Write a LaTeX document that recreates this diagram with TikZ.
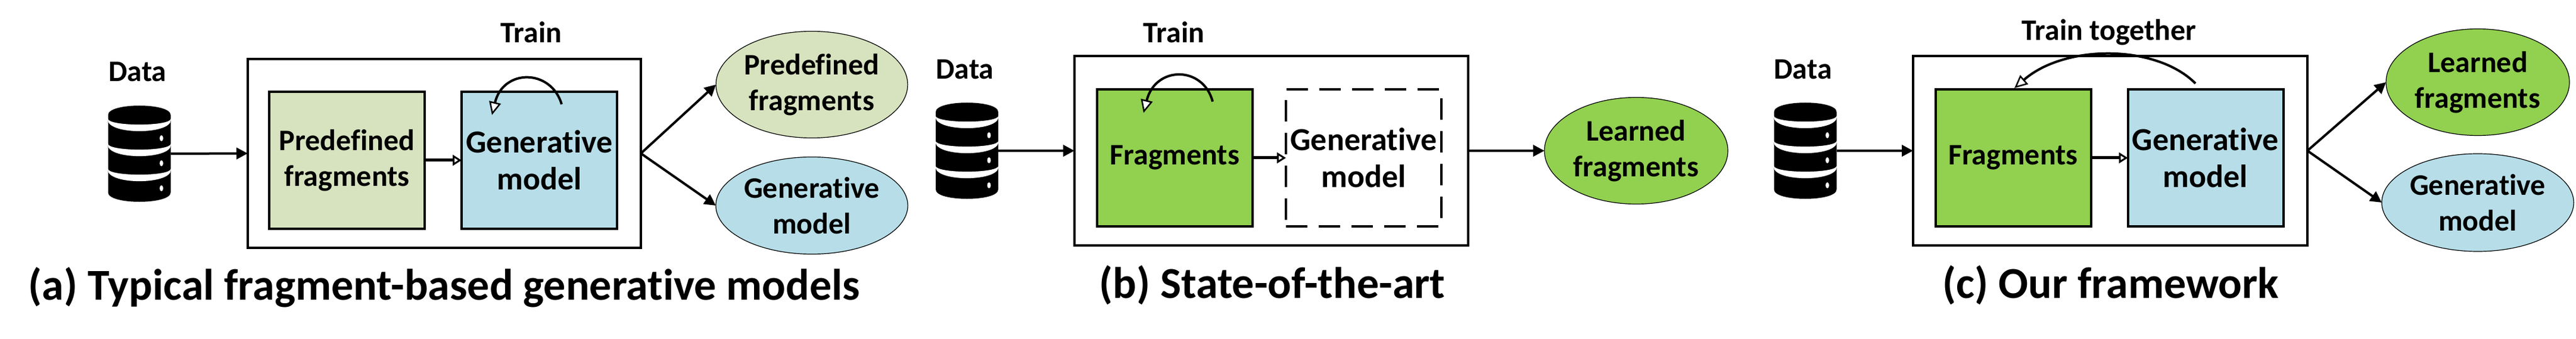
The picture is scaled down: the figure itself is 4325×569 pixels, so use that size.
\documentclass[tikz,border=0pt]{standalone}
\usepackage{fontspec}
\setmainfont[Ligatures=NoCommon,RawFeature={-liga,-clig}]{Carlito}
\usetikzlibrary{arrows.meta,shapes.geometric}
\definecolor{predgreen}{HTML}{D7E3BF}
\definecolor{genblue}{HTML}{B7DEE8}
\definecolor{learngreen}{HTML}{92D050}
\newcommand{\dbicon}[3]{% name, cx, top
  \node[minimum width=105pt,minimum height=162pt,inner sep=0pt,outer sep=0pt] (#1) at (#2,#3+81) {};
  \begin{scope}[shift={(#2,#3)}]
    \fill[black] (-52.5,16) -- (-52.5,146) .. controls (-52.5,167) and (52.5,167) .. (52.5,146) -- (52.5,16) .. controls (52.5,-5) and (-52.5,-5) .. cycle;
    \foreach \ye in {22,64,106}{
      \fill[white] (-53,\ye) .. controls (-53,\ye+13.5) and (53,\ye+13.5) .. (53,\ye)
        -- (53,\ye+2) .. controls (53,\ye+27.5) and (-53,\ye+27.5) .. (-53,\ye+2) -- cycle;
      \fill[white] (37,\ye+33) ellipse [x radius=3pt,y radius=5pt];
    }
  \end{scope}}
\tikzset{
  lab/.style={font=\bfseries\fontsize{50}{60}\selectfont,inner sep=0pt},
  captiontext/.style={font=\bfseries\fontsize{74}{88}\selectfont,inner sep=0pt},
  boxtext/.style={font=\bfseries\fontsize{50}{60}\selectfont,align=center,inner sep=0pt,outer sep=0pt},
  gentext/.style={font=\bfseries\fontsize{54}{62}\selectfont},
  outerbox/.style={draw=black,fill=white,line width=4pt,inner sep=0pt,outer sep=0pt},
  innerbox/.style={boxtext,draw=black,line width=4pt,minimum width=261pt,minimum height=230pt},
  dashbox/.style={boxtext,draw=black,line width=4pt,minimum width=261pt,minimum height=230pt,dash pattern=on 36pt off 19pt},
  resultnode/.style={boxtext,ellipse,draw=black,line width=1.2pt,minimum width=308pt},
  solidarrow/.style={draw=black,line width=4pt,-{Triangle[length=19pt,width=19pt]}},
  openarrow/.style={draw=black,line width=5pt,-{Triangle[open,fill=white,length=15pt,width=18pt,line width=3pt]}},
  selfloop/.style={draw=black,line width=4pt,-{Triangle[open,fill=white,length=22pt,width=20pt,line width=2.5pt]}}
}
\begin{document}
\begin{tikzpicture}[x=1pt,y=-1pt]
\useasboundingbox (0,0) rectangle (4325,569);
\fill[white] (0,0) rectangle (4325,569);
% panel a
\node[lab] (adata) at (231,120) {Data};
\node[lab] (atrain) at (892,54) {Train};
\dbicon{adb}{234}{177}
\node[outerbox,minimum width=660pt,minimum height=317pt] (abox) at (746,257.5) {};
\node[innerbox,fill=predgreen] (apred) at (582.5,269) {Predefined\\fragments};
\node[innerbox,gentext,fill=genblue] (agen) at (905.5,269) {Generative\\model};
\node[resultnode,fill=predgreen,minimum height=179pt] (aout1) at (1363,142) {Predefined\\fragments};
\node[resultnode,fill=genblue,minimum height=163pt] (aout2) at (1363,345) {Generative\\model};
\node[captiontext] (acap) at (746,482) {(a) Typical fragment-based generative models};
\draw[solidarrow] (adb.east) -- (abox.west);
\draw[openarrow] (apred.east) -- (agen.west);
\draw[solidarrow] (abox.east) -- (aout1.west);
\draw[solidarrow] (abox.east) -- (aout2.west);
\coordinate (aloopS) at (943,175);
\coordinate (aloopE) at (826,193);
\draw[selfloop] (aloopS) .. controls (925,115) and (845,115) .. (aloopE);
% panel b
\node[lab] (bdata) at (1620,116) {Data};
\node[lab] (btrain) at (1971,54) {Train};
\dbicon{bdb}{1623.5}{172}
\node[outerbox,minimum width=661pt,minimum height=317pt] (bbox) at (2134.5,253) {};
\node[innerbox,fill=learngreen] (bfrag) at (1972.5,265) {Fragments};
\node[dashbox,gentext] (bgen) at (2289.5,265) {Generative\\model};
\node[resultnode,fill=learngreen,minimum height=179pt] (bout) at (2747,253) {Learned\\fragments};
\node[captiontext] (bcap) at (2136,479) {(b) State-of-the-art};
\draw[solidarrow] (bdb.east) -- (bbox.west);
\draw[openarrow] (bfrag.east) -- (bgen.west);
\draw[solidarrow] (bbox.east) -- (bout.west);
\coordinate (bloopS) at (2036,170.5);
\coordinate (bloopE) at (1920,189.5);
\draw[selfloop] (bloopS) .. controls (2020,110) and (1940,110) .. (bloopE);
% panel c
\node[lab] (cdata) at (3027,116) {Data};
\node[lab] (ctrain) at (3541,54) {Train together};
\dbicon{cdb}{3031}{172}
\node[outerbox,minimum width=662pt,minimum height=317pt] (cbox) at (3543,253) {};
\node[innerbox,fill=learngreen] (cfrag) at (3380,265) {Fragments};
\node[innerbox,gentext,fill=genblue] (cgen) at (3703,265) {Generative\\model};
\node[resultnode,fill=learngreen,minimum height=179pt] (cout1) at (4160,138) {Learned\\fragments};
\node[resultnode,fill=genblue,minimum height=164pt] (cout2) at (4160,340) {Generative\\model};
\node[captiontext] (ccap) at (3544,479) {(c) Our framework};
\draw[solidarrow] (cdb.east) -- (cbox.west);
\draw[openarrow] (cfrag.east) -- (cgen.west);
\draw[solidarrow] (cbox.east) -- (cout1.west);
\draw[solidarrow] (cbox.east) -- (cout2.west);
\coordinate (cloopS) at (3686,140);
\coordinate (cloopE) at (3382,148);
\draw[selfloop] (cloopS) .. controls (3620,74) and (3467,74) .. (cloopE);
\end{tikzpicture}
\end{document}
